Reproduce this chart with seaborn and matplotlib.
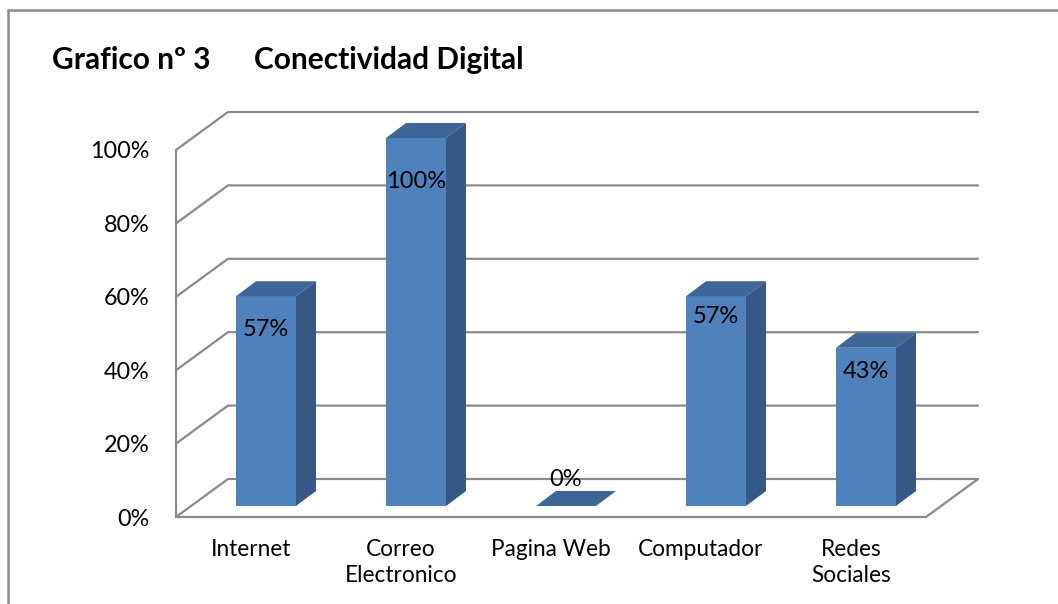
import matplotlib
matplotlib.use("Agg")
import matplotlib.pyplot as plt
import matplotlib.transforms as mtransforms
from matplotlib.lines import Line2D
from matplotlib.patches import Polygon
import seaborn as sns

# ---- data ----
categories = ["Internet", "Correo Electronico", "Pagina Web", "Computador", "Redes Sociales"]
tick_names = ["Internet", "Correo\nElectronico", "Pagina Web", "Computador", "Redes\nSociales"]
values = [0.57, 1.00, 0.00, 0.57, 0.43]
value_labels = ["57%", "100%", "0%", "57%", "43%"]
y_ticks = [0.0, 0.2, 0.4, 0.6, 0.8, 1.0]
y_tick_labels = ["0%", "20%", "40%", "60%", "80%", "100%"]
title = "Grafico nº 3      Conectividad Digital"

# ---- style ----
W, H, DPI = 1058, 604, 100
FRONT = "#4F81BD"
TOP = "#3E6797"
SIDE = "#375884"
GRID = "#8A8A8A"
FONT = "Lato"
label_offsets_px = [-33, -44, 27, -20, -24]

sns.set_theme(style="white")
plt.rcParams["font.family"] = [FONT, "DejaVu Sans"]

fig = plt.figure(figsize=(W / DPI, H / DPI), dpi=DPI)
fig.patch.set_facecolor("white")

def fig_rect(left, top, width, height):
    return [left / W, (H - top - height) / H, width / W, height / H]

# front plane axes (axis labels, walls)
ax_f = fig.add_axes(fig_rect(176, 150, 750, 367))
# bar plane axes (bars sit mid-depth)
ax = fig.add_axes(fig_rect(191, 138, 750, 368))
for a in (ax_f, ax):
    a.set_xlim(-0.5, 4.5)
    a.set_ylim(0, 1)
    a.patch.set_alpha(0)
    for s in a.spines.values():
        s.set_visible(False)
ax_f.set_zorder(1)
ax.set_zorder(2)

def shifted(a, dx, dy):
    return a.transData + mtransforms.ScaledTranslation(dx / DPI, dy / DPI, fig.dpi_scale_trans)

def to_data(a, pts_disp):
    inv = a.transData.inverted()
    return inv.transform(pts_disp)

# back wall offset relative to the front plane
BX, BY = 52, 38
back_t = shifted(ax_f, BX, BY)

# gridlines (front-left diagonal + back wall horizontal)
for yv in y_ticks:
    p0 = ax_f.transData.transform((-0.5, yv))
    p1 = back_t.transform((-0.5, yv))
    p2 = back_t.transform((4.5, yv))
    d = to_data(ax_f, [p0, p1, p2])
    ax_f.plot(d[:, 0], d[:, 1], color=GRID, lw=1.6, clip_on=False, zorder=1)

# floor front edge and right diagonal, left wall vertical edge
p_fr = back_t.transform((4.5, 0))
d = to_data(ax_f, [ax_f.transData.transform((-0.5, 0)), ax_f.transData.transform((4.5, 0)), p_fr])
ax_f.plot(d[:, 0], d[:, 1], color=GRID, lw=1.6, clip_on=False, zorder=1)
ax_f.plot([-0.5, -0.5], [0, 1], color=GRID, lw=1.6, clip_on=False, zorder=1)

# axis labels on the front plane
ax_f.set_yticks(y_ticks)
ax_f.set_yticklabels(y_tick_labels)
ax_f.set_xticks(range(len(categories)))
ax_f.set_xticklabels(tick_names, linespacing=1.3)
ax_f.tick_params(axis="y", length=0, pad=19, labelsize=16.8, colors="black")
ax_f.tick_params(axis="x", length=0, pad=16, labelsize=16.3, colors="black")
ax_f.set_xlabel("")
ax_f.set_ylabel("")

# bars
sns.barplot(x=categories, y=values, color=FRONT, saturation=1, width=0.4,
            ax=ax, edgecolor="none", linewidth=0, zorder=3)
ax.set_xlim(-0.5, 4.5)
ax.set_ylim(0, 1)
ax.set_xticks([])
ax.set_yticks([])
ax.set_xlabel("")
ax.set_ylabel("")

# 3D faces
DX, DY = 20, 15
for bar in ax.patches:
    x0 = bar.get_x()
    x1 = x0 + bar.get_width()
    h = bar.get_height()
    fl = ax.transData.transform((x0, h))
    fr = ax.transData.transform((x1, h))
    br = fr + [DX, DY]
    bl = fl + [DX, DY]
    fb = ax.transData.transform((x1, 0))
    bb = fb + [DX, DY]
    top = to_data(ax, [fl, fr, br, bl])
    side = to_data(ax, [fr, fb, bb, br])
    ax.add_patch(Polygon(top, closed=True, facecolor=TOP, edgecolor="none", clip_on=False, zorder=4))
    if h > 0:
        ax.add_patch(Polygon(side, closed=True, facecolor=SIDE, edgecolor="none", clip_on=False, zorder=4))

# value labels
for i, (v, lab) in enumerate(zip(values, value_labels)):
    t = ax.transData + mtransforms.ScaledTranslation(0, label_offsets_px[i] / DPI, fig.dpi_scale_trans)
    ax.text(i, v, lab, transform=t, ha="center", va="center", fontsize=17,
            color="black", zorder=6)

# title
fig.text(52 / W, 1 - 60 / H, title, ha="left", va="center", fontsize=21.5,
         fontweight="bold", color="black")

# outer chart frame
fig.add_artist(Line2D([8 / W, 1.0], [1 - 10 / H, 1 - 10 / H], transform=fig.transFigure,
                      color="#8C8C8C", lw=1.8))
fig.add_artist(Line2D([8 / W, 8 / W], [0, 1 - 10 / H], transform=fig.transFigure,
                      color="#8C8C8C", lw=1.8))

fig.savefig("out.png", dpi=DPI, facecolor="white")
